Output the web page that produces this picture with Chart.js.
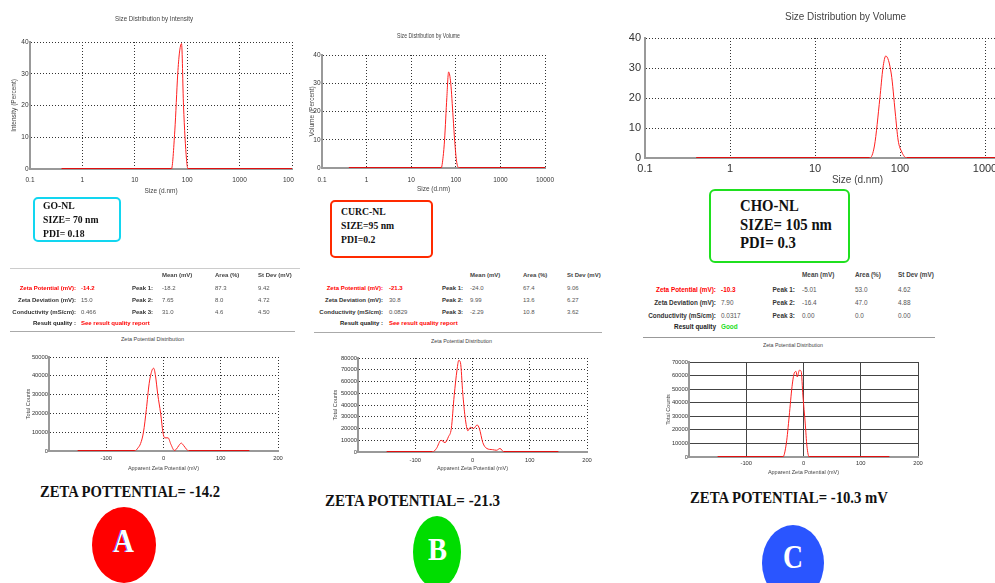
<!DOCTYPE html>
<html>
<head>
<meta charset="utf-8">
<script src="https://cdn.jsdelivr.net/npm/chart.js@4.4.0/dist/chart.umd.min.js"></script>
<style>
html, body { margin: 0; padding: 0; background: #fff; }
#page { position: relative; width: 995px; height: 583px; overflow: hidden; background: #fff;
        font-family: "Liberation Sans", Arial, sans-serif; }
.t { position: absolute; white-space: nowrap; line-height: 1; transform-origin: 0 50%; }
.clip { position: absolute; overflow: hidden; }
canvas { position: absolute; }
.box { position: absolute; box-sizing: border-box; background: #fff; }
.ell { position: absolute; border-radius: 50%; }
.hr { position: absolute; height: 0; }
</style>
</head>
<body>
<div id="page">
  <div class="clip" style="left:0;top:0;width:294px;height:200px;"><canvas id="sizeA"></canvas></div>
  <canvas id="sizeB"></canvas>
  <canvas id="sizeC"></canvas>
  <canvas id="zetaA"></canvas>
  <canvas id="zetaB"></canvas>
  <canvas id="zetaC"></canvas>

  <div class="box" style="left:33px;top:197px;width:88px;height:45px;border:2px solid #12d6f0;border-radius:5px;"></div>
  <div class="box" style="left:330px;top:200px;width:103px;height:58px;border:2px solid #ff2a00;border-radius:5px;"></div>
  <div class="box" style="left:709px;top:189px;width:141px;height:74px;border:2px solid #1fe01f;border-radius:6px;"></div>

  <div class="hr" style="left:10px;top:268px;width:290px;border-top:1px solid #ccc;"></div>
  <div class="hr" style="left:10px;top:331px;width:285px;border-top:1px solid #aaa;"></div>
  <div class="hr" style="left:314px;top:332px;width:288px;border-top:1px solid #aaa;"></div>
  <div class="hr" style="left:643px;top:337px;width:292px;border-top:1px solid #999;"></div>

  <div class="ell" style="left:92px;top:507px;width:64px;height:76px;background:#ff0000;"></div>
  <div class="ell" style="left:413px;top:516px;width:48px;height:72px;background:#00dd00;"></div>
  <div class="ell" style="left:762px;top:525px;width:62px;height:76px;background:#2a55ff;"></div>
</div>

<script>
// --- DATA ---
// size distribution (d.nm vs percent)
const sizeTicks = [0.1, 1, 10, 100, 1000, 10000];
const goSizeNm    = [0.4, 50, 58, 66, 71, 78, 85, 97, 104, 10000];
const goIntensity = [0,   0,  12, 30, 36.5, 39.5, 20, 3, 0, 0];
const curcSizeNm  = [0.4, 47, 52, 56, 63, 69, 77, 87, 95, 105, 120, 10000];
const curcVolume  = [0,   0,  4,  10, 25, 34, 30, 18, 9,  2,   0,   0];
const choSizeNm   = [0.4, 44, 50, 58, 63, 68, 79, 88, 95, 105, 120, 10000];
const choVolume   = [0,   0,  4,  20, 30, 34, 28, 15, 6,  2,   0,   0];

// zeta potential distribution (mV vs total counts)
const zetaTicks = [-200, -100, 0, 100, 200];
const goZetaMv   = [-150, -50, -45, -40, -35, -30, -25, -20, -17, -14, -10, -5, -1, 2, 8, 13, 19, 22, 27, 31, 35, 40, 44, 150];
const goCounts   = [0, 0, 1500, 4000, 10000, 22000, 36000, 43000, 44000, 40000, 30000, 20000, 10000, 7000, 7000, 3500, 300, 800, 3000, 4200, 3000, 1000, 0, 0];
const curcZetaMv = [-150, -70, -63, -55, -48, -42, -37, -32, -27, -24, -21, -17, -13, -8, -4, 2, 8, 12, 18, 25, 35, 42, 48, 55, 150];
const curcCounts = [0, 0, 3000, 10000, 8000, 13000, 20000, 48000, 70000, 78000, 76000, 50000, 30000, 18000, 21000, 20000, 23000, 20000, 8000, 3000, 2000, 1500, 3000, 0, 0];
const choZetaMv  = [-150, -36, -30, -25, -20, -16, -13, -11, -7, -4, -1, 3, 6, 10, 150];
const choCounts  = [0, 0, 10000, 30000, 52000, 62000, 63000, 59000, 64000, 63000, 45000, 25000, 8000, 0, 0];

const FONT = "'Liberation Sans', Arial, sans-serif";
Chart.defaults.font.family = FONT;
const page = document.getElementById('page');

// --- CHART HELPERS ---
function plotChart(id, g, xs, ys, xOpts, yOpts) {
  const cv = document.getElementById(id);
  cv.width = g.cw; cv.height = g.ch;
  cv.style.left = g.cx + 'px'; cv.style.top = g.cy + 'px';
  cv.style.width = g.cw + 'px'; cv.style.height = g.ch + 'px';
  const flat = c => c.p0.parsed.y === 0 && c.p1.parsed.y === 0;
  return new Chart(cv, {
    type: 'line',
    data: {
      datasets: [{
        data: xs.map((x, i) => ({ x: x, y: ys[i] })),
        borderColor: '#ff2020',
        borderWidth: 1,
        pointRadius: 0,
        cubicInterpolationMode: 'monotone',
        segment: {
          borderWidth: c => flat(c) ? 2 : 1,
          borderColor: c => flat(c) ? '#e01010' : '#ff2020'
        }
      }]
    },
    options: {
      responsive: false,
      animation: false,
      devicePixelRatio: 1,
      layout: { autoPadding: false, padding: { left: 0, top: g.pt - g.cy, right: g.cx + g.cw - g.pr, bottom: 0 } },
      plugins: { legend: { display: false }, tooltip: { enabled: false }, title: { display: false } },
      scales: {
        x: Object.assign({ afterFit: s => { s.height = g.cy + g.ch - g.pb; } }, xOpts),
        y: Object.assign({ afterFit: s => { s.width = g.pl - g.cx; } }, yOpts)
      }
    }
  });
}

function gridOpts(solid) {
  return {
    grid: { color: solid ? '#444' : '#333', lineWidth: 1, drawTicks: false },
    border: { color: '#999', width: 2, dash: solid ? [] : [1, 2] }
  };
}

function sizeX(fs, tickPad, titleSize, titlePad) {
  return Object.assign({
    type: 'logarithmic', min: 0.1, max: 10000,
    afterBuildTicks: s => { s.ticks = sizeTicks.map(v => ({ value: v })); },
    ticks: { callback: v => String(v), font: { size: fs }, color: '#333', maxRotation: 0, autoSkip: false, padding: tickPad },
    title: { display: true, text: 'Size (d.nm)', font: { size: titleSize }, color: '#444', padding: { top: 0, bottom: titlePad } }
  }, gridOpts(false));
}

function sizeY(fs, tickPad, title, titlePad) {
  return Object.assign({
    min: 0, max: 40,
    ticks: { stepSize: 10, font: { size: fs }, color: '#333', padding: tickPad },
    title: { display: !!title, text: title || '', font: { size: 6.5 }, color: '#444', padding: { top: titlePad, bottom: 0 } }
  }, gridOpts(false));
}

function zetaX(tickPad, titlePad, solid) {
  return Object.assign({
    type: 'linear', min: -200, max: 200,
    afterBuildTicks: s => { s.ticks = zetaTicks.map(v => ({ value: v })); },
    ticks: { callback: v => v === -200 ? '' : String(v), font: { size: 5.8 }, color: '#333', maxRotation: 0, autoSkip: false, padding: tickPad },
    title: { display: true, text: 'Apparent Zeta Potential (mV)', font: { size: 5.5 }, color: '#444', padding: { top: 0, bottom: titlePad } }
  }, gridOpts(solid));
}

function zetaY(max, titlePad, solid) {
  return Object.assign({
    min: 0, max: max,
    ticks: { stepSize: 10000, callback: v => String(v), font: { size: 5.8 }, color: '#333', padding: 1 },
    title: { display: true, text: 'Total Counts', font: { size: 5.5 }, color: '#444', padding: { top: titlePad, bottom: 0 } }
  }, gridOpts(solid));
}

// --- SIZE DISTRIBUTION CHARTS ---
plotChart('sizeA', { cx: 0, cy: 0, cw: 320, ch: 200, pl: 30, pt: 42, pr: 292, pb: 169 },
  goSizeNm, goIntensity, sizeX(6.5, 7, 6.5, 5), sizeY(6.5, 1.5, 'Intensity (Percent)', 10));
plotChart('sizeB', { cx: 300, cy: 25, cw: 270, ch: 170, pl: 322, pt: 55, pr: 545, pb: 168 },
  curcSizeNm, curcVolume, sizeX(6.5, 8, 6.5, 2), sizeY(6.5, 1.5, 'Volume (Percent)', 8));
plotChart('sizeC', { cx: 620, cy: 0, cw: 480, ch: 190, pl: 645, pt: 38, pr: 1070, pb: 158 },
  choSizeNm, choVolume, sizeX(11, 4.5, 10, 4), sizeY(11, 4, null, 0));

// --- ZETA POTENTIAL CHARTS ---
plotChart('zetaA', { cx: 0, cy: 345, cw: 300, ch: 130, pl: 49, pt: 357, pr: 278, pb: 451 },
  goZetaMv, goCounts, zetaX(4, 3.7, false), zetaY(50000, 24.7, false));
plotChart('zetaB', { cx: 300, cy: 345, cw: 310, ch: 135, pl: 358, pt: 358, pr: 587, pb: 452 },
  curcZetaMv, curcCounts, zetaX(5, 8.7, false), zetaY(80000, 31.7, false));
plotChart('zetaC', { cx: 640, cy: 350, cw: 300, ch: 130, pl: 689, pt: 362, pr: 918, pb: 457 },
  choZetaMv, choCounts, zetaX(3, 4.7, true), zetaY(70000, 24.7, true));

// --- TEXT ---
function txt(s, x, y, o) {
  const d = document.createElement('div');
  d.className = 't';
  d.textContent = s;
  d.style.fontSize = (o.size || 6) + 'px';
  d.style.fontWeight = o.bold ? 'bold' : 'normal';
  d.style.color = o.color || '#333';
  if (o.serif) d.style.fontFamily = "'Liberation Serif', 'Times New Roman', serif";
  if (o.shadow) d.style.textShadow = o.shadow;
  page.appendChild(d);
  const r = d.getBoundingClientRect();
  const sx = o.w ? o.w / r.width : 1;
  const ww = r.width * sx;
  const left = o.align === 'c' ? x - ww / 2 : o.align === 'r' ? x - ww : x;
  d.style.left = left + 'px';
  d.style.top = (y - r.height / 2) + 'px';
  if (sx !== 1) d.style.transform = 'scaleX(' + sx + ')';
  return d;
}

// chart titles
txt('Size Distribution by Intensity', 154, 18, { size: 7, color: '#444', align: 'c', w: 78 });
txt('Size Distribution by Volume', 428, 36, { size: 6.5, color: '#444', align: 'c', w: 63 });
txt('Size Distribution by Volume', 845, 17, { size: 10, color: '#444', align: 'c', w: 121 });
txt('Zeta Potential Distribution', 152, 339, { size: 6, color: '#444', align: 'c', w: 63 });
txt('Zeta Potential Distribution', 461, 341, { size: 6, color: '#444', align: 'c', w: 61 });
txt('Zeta Potential Distribution', 793, 345, { size: 6, color: '#444', align: 'c', w: 60 });

// sample boxes
const boxA = ['GO-NL', 'SIZE= 70 nm', 'PDI= 0.18'];
const boxB = ['CURC-NL', 'SIZE=95 nm', 'PDI=0.2'];
const boxC = ['CHO-NL', 'SIZE= 105 nm', 'PDI= 0.3'];
[[boxA, 43, [205, 219, 233], 11, 0.88], [boxB, 341, [211, 225, 239], 11, 0.88], [boxC, 740, [206, 225, 243], 16, 0.92]]
  .forEach(([lines, x, ys, size, sq]) => {
    lines.forEach((s, i) => {
      const d = txt(s, x, ys[i], { size: size, bold: true, serif: true, color: '#111' });
      d.style.transform = 'scaleX(' + sq + ')';
    });
  });

// result tables
function zetaTable(p, v) {
  const h = { size: p.size, bold: true, color: '#444' };
  txt('Mean (mV)', p.mean, p.hy, h);
  txt('Area (%)', p.area, p.hy, h);
  txt('St Dev (mV)', p.sd, p.hy, h);
  const labels = ['Zeta Potential (mV):', 'Zeta Deviation (mV):', 'Conductivity (mS/cm):'];
  labels.forEach((l, i) => {
    const red = i === 0;
    txt(l, p.lab, p.ys[i], { size: p.size, bold: true, color: red ? '#ff0000' : '#333', align: 'r' });
    txt(v.main[i], p.val, p.ys[i], { size: p.size, bold: red, color: red ? '#ff0000' : '#555' });
    txt('Peak ' + (i + 1) + ':', p.peak, p.ys[i], { size: p.size, bold: true, color: '#333', align: 'r' });
    txt(v.peaks[i][0], p.mean, p.ys[i], { size: p.size, color: '#555' });
    txt(v.peaks[i][1], p.area, p.ys[i], { size: p.size, color: '#555' });
    txt(v.peaks[i][2], p.sd, p.ys[i], { size: p.size, color: '#555' });
  });
  txt(v.qLabel, p.lab, p.ys[3], { size: p.size, bold: true, color: '#222', align: 'r' });
  txt(v.quality, p.val, p.ys[3], { size: p.size, bold: true, color: v.qColor });
}

zetaTable({ lab: 76, val: 81, peak: 153, mean: 162, area: 215, sd: 258, hy: 275, ys: [288, 300, 312, 323], size: 6 },
  { main: ['-14.2', '15.0', '0.466'], peaks: [['-18.2', '87.3', '9.42'], ['7.65', '8.0', '4.72'], ['31.0', '4.6', '4.50']],
    qLabel: 'Result quality :', quality: 'See result quality report', qColor: '#ff0000' });
zetaTable({ lab: 383, val: 389, peak: 463, mean: 470, area: 523, sd: 567, hy: 275, ys: [288, 300, 312, 323], size: 6 },
  { main: ['-21.3', '30.8', '0.0829'], peaks: [['-24.0', '67.4', '9.06'], ['9.99', '13.6', '6.27'], ['-2.29', '10.8', '3.62']],
    qLabel: 'Result quality :', quality: 'See result quality report', qColor: '#ff0000' });
zetaTable({ lab: 716, val: 721, peak: 795, mean: 802, area: 855, sd: 898, hy: 275, ys: [290, 303, 316, 327], size: 6.4 },
  { main: ['-10.3', '7.90', '0.0317'], peaks: [['-5.01', '53.0', '4.62'], ['-16.4', '47.0', '4.88'], ['0.00', '0.0', '0.00']],
    qLabel: 'Result quality', quality: 'Good', qColor: '#22dd22' });

// zeta potential captions
txt('ZETA POTTENTIAL= -14.2', 40, 492, { size: 16, bold: true, serif: true, color: '#111', w: 180 });
txt('ZETA POTENTIAL= -21.3', 325, 501, { size: 16, bold: true, serif: true, color: '#111', w: 175 });
txt('ZETA POTENTIAL= -10.3 mV', 690, 498, { size: 16, bold: true, serif: true, color: '#111', w: 198 });

// panel letters
txt('A', 123, 541, { size: 34, bold: true, serif: true, color: '#fff', align: 'c', w: 21, shadow: '-1px 0 #3344ff' });
txt('B', 437, 549, { size: 31, bold: true, serif: true, color: '#fff', align: 'c', w: 19 });
txt('C', 793, 557, { size: 33, bold: true, serif: true, color: '#fff', align: 'c', w: 20 });
</script>
</body>
</html>
